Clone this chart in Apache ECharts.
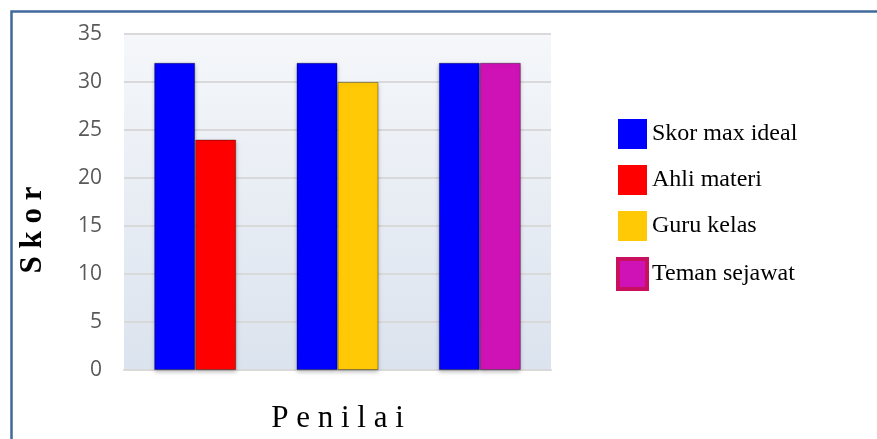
<!DOCTYPE html>
<html>
<head>
<meta charset="utf-8">
<script src="https://cdn.jsdelivr.net/npm/echarts@6/dist/echarts.min.js"></script>
<style>
  html, body { margin: 0; padding: 0; background: #fff; }
  #chart { width: 877px; height: 439px; }
</style>
</head>
<body>
<div id="chart"></div>
<script>
// data
var groups = ['A', 'B', 'C'];
var skorMax = [32, 32, 32];
var ahliMateri = [24, null, null];
var guruKelas = [null, 30, null];
var temanSejawat = [null, null, 32];
var yTicks = { min: 0, max: 35, step: 5 };

var chart = echarts.init(document.getElementById('chart'));

function bar(name, data, color, stack) {
    var s = {
        name: name,
        type: 'bar',
        data: data,
        barWidth: 41,
        barGap: '0%',
        itemStyle: {
            color: color,
            borderColor: 'rgba(0,0,0,0.35)',
            borderWidth: 1,
            shadowColor: 'rgba(0,0,0,0.25)',
            shadowBlur: 4,
            shadowOffsetY: 2
        }
    };
    if (stack) s.stack = stack;
    return s;
}

var option = {
    animation: false,
    graphic: [
        {
            type: 'rect',
            left: 9, top: 9,
            shape: { width: 900, height: 500 },
            style: { fill: 'none', stroke: '#41699b', lineWidth: 2.5 },
            z: 0
        },
        {
            type: 'text',
            x: 33, y: 230,
            rotation: Math.PI / 2,
            style: {
                text: 'S k o r',
                fontFamily: 'Liberation Serif',
                fontSize: 31,
                fontWeight: 'bold',
                fill: '#000',
                align: 'center',
                verticalAlign: 'middle'
            }
        }
    ],
    grid: {
        left: 124,
        right: 326,
        top: 34,
        bottom: 67,
        show: true,
        borderWidth: 0,
        backgroundColor: new echarts.graphic.LinearGradient(0, 0, 0, 1, [
            { offset: 0, color: '#f5f7fa' },
            { offset: 1, color: '#dbe3ee' }
        ])
    },
    legend: {
        orient: 'vertical',
        left: 611,
        top: 114,
        itemWidth: 29,
        itemHeight: 30,
        itemGap: 16,
        icon: 'rect',
        itemStyle: { borderWidth: 0, shadowBlur: 0 },
        textStyle: { fontFamily: 'Liberation Serif', fontSize: 24, color: '#000' },
        data: [
            'Skor max ideal',
            'Ahli materi',
            'Guru kelas',
            { name: 'Teman sejawat', itemStyle: { borderColor: '#c8105e', borderWidth: 4 } }
        ]
    },
    xAxis: {
        type: 'category',
        data: groups,
        name: 'P e n i l a i',
        nameLocation: 'middle',
        nameGap: 33,
        nameTextStyle: { fontFamily: 'Liberation Serif', fontSize: 31, color: '#000' },
        axisLine: { lineStyle: { color: '#d9d9d9', width: 2 } },
        axisTick: { show: false },
        axisLabel: { show: false }
    },
    yAxis: {
        type: 'value',
        min: yTicks.min,
        max: yTicks.max,
        interval: yTicks.step,
        axisLine: { show: false },
        axisTick: { show: false },
        axisLabel: { fontFamily: 'Open Sans', fontSize: 21, color: '#595959', margin: 22 },
        splitLine: { lineStyle: { color: '#d9d9d9', width: 2 } }
    },
    series: [
        bar('Skor max ideal', skorMax, '#0000ff'),
        bar('Ahli materi', ahliMateri, '#ff0000', 'penilai'),
        bar('Guru kelas', guruKelas, '#ffc905', 'penilai'),
        bar('Teman sejawat', temanSejawat, '#cf12b6', 'penilai')
    ]
};

chart.setOption(option);
</script>
</body>
</html>
